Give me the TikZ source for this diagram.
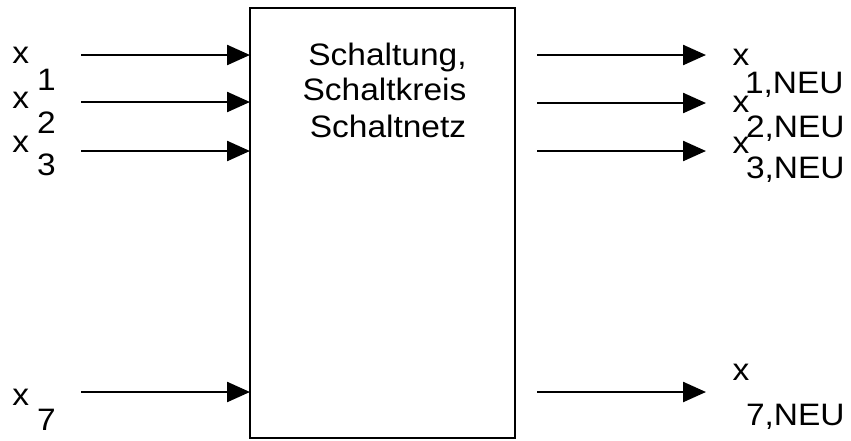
\documentclass[tikz,border=0pt]{standalone}
\usepackage{fontspec}
\setmainfont{Liberation Sans}[FakeStretch=1.08]
\usetikzlibrary{arrows.meta}
\begin{document}
\begin{tikzpicture}[x=1pt,y=-1pt,
  txt/.style={inner sep=0pt, outer sep=0pt, font=\fontsize{31}{36}\selectfont},
  lbl/.style={txt, anchor=base west},
  ttl/.style={txt, anchor=base},
  sig/.style={line width=2.4pt, -{Triangle[length=23pt,width=20pt]}},
  block/.style={draw, line width=2pt, rectangle, inner sep=0pt, outer sep=0pt,
    minimum width=264.5pt, minimum height=430pt}
]
\useasboundingbox (0,0) rectangle (851,440);

% circuit block
\node[block] (blk) at (382.25,223) {};
\node[ttl] (t1) at (387.5,65) {Schaltung,};
\node[ttl] (t2) at (384.5,100) {Schaltkreis};
\node[ttl] (t3) at (388,137) {Schaltnetz};

% input lines
\coordinate (in1) at (81,55);
\coordinate (in2) at (81,102);
\coordinate (in3) at (81,151);
\coordinate (in7) at (81,392);
\foreach \i in {1,2,3,7}
  \draw[sig] (in\i) -- (blk.west |- in\i);

% output lines
\coordinate (o1a) at (537,55);  \coordinate (o1b) at (706,55);
\coordinate (o2a) at (537,103); \coordinate (o2b) at (706,103);
\coordinate (o3a) at (537,151); \coordinate (o3b) at (706,151);
\coordinate (o7a) at (537,392); \coordinate (o7b) at (706,392);
\foreach \i in {1,2,3,7}
  \draw[sig] (o\i a) -- (o\i b);

% input labels
\node[lbl] (x1) at (12.5,63) {x};
\node[lbl] (x1s) at (37,90) {1};
\node[lbl] (x2) at (12.5,108) {x};
\node[lbl] (x2s) at (37,133) {2};
\node[lbl] (x3) at (12.5,152) {x};
\node[lbl] (x3s) at (37,175) {3};
\node[lbl] (x7) at (12.5,405) {x};
\node[lbl] (x7s) at (37,430) {7};

% output labels
\node[lbl] (y1) at (732.5,65) {x};
\node[lbl] (y1s) at (745,93) {1,NEU};
\node[lbl] (y2) at (732.5,112) {x};
\node[lbl] (y2s) at (746,137) {2,NEU};
\node[lbl] (y3) at (732.5,153) {x};
\node[lbl] (y3s) at (746,178) {3,NEU};
\node[lbl] (y7) at (732.5,380) {x};
\node[lbl] (y7s) at (746,425) {7,NEU};
\end{tikzpicture}
\end{document}
